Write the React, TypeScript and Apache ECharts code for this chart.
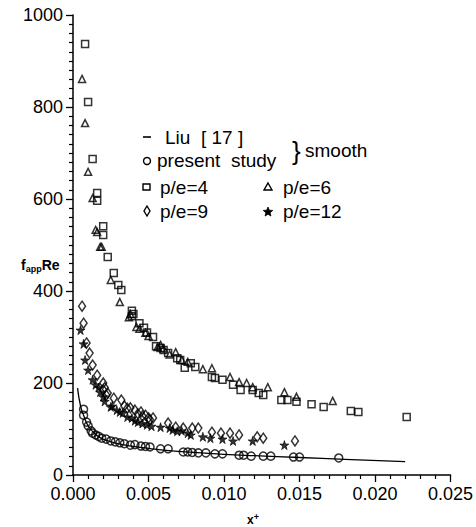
import React, { useEffect, useRef } from "react";
import * as echarts from "echarts";

const xTicks = [0, 0.005, 0.01, 0.015, 0.02, 0.025];
const yTicks = [0, 200, 400, 600, 800, 1000];

const liuX = [0.0003, 0.0005, 0.0007, 0.001, 0.0015, 0.002, 0.003, 0.004, 0.005, 0.006, 0.008, 0.01, 0.012, 0.015, 0.018, 0.022];
const liuY = [189, 150, 130, 107, 88, 78, 68, 62, 58, 54, 49, 45, 42, 38, 34, 29];

const presentStudy: number[][] = [
  [0.0007, 143], [0.0007, 130], [0.0009, 115], [0.001, 107], [0.0012, 96], [0.0013, 91], [0.0015, 87],
  [0.0017, 84], [0.0019, 80], [0.0022, 78], [0.0025, 74], [0.0028, 72], [0.0031, 70], [0.0034, 68],
  [0.0038, 65], [0.0041, 66], [0.0045, 63], [0.0048, 62], [0.0051, 61], [0.0058, 57], [0.0063, 57],
  [0.0073, 50], [0.0076, 50], [0.0079, 49], [0.0083, 48], [0.0088, 48], [0.0094, 46], [0.0099, 46],
  [0.011, 43], [0.0113, 43], [0.0118, 41], [0.0126, 41], [0.0131, 41], [0.0146, 39], [0.015, 39], [0.0176, 37],
];

const pe4: number[][] = [
  [0.0008, 937], [0.001, 811], [0.0013, 687], [0.0016, 613], [0.0016, 596], [0.002, 541], [0.002, 522],
  [0.0023, 474], [0.0027, 439], [0.003, 413], [0.0032, 402], [0.0039, 357], [0.0039, 345], [0.004, 350],
  [0.0044, 330], [0.0047, 320], [0.0049, 310], [0.0053, 300], [0.0055, 280], [0.0058, 276], [0.006, 272],
  [0.0063, 265], [0.0069, 254], [0.0071, 250], [0.0074, 233], [0.0078, 243], [0.0081, 235],
  [0.0092, 213], [0.0094, 211], [0.0099, 207], [0.0106, 196], [0.0111, 185], [0.0119, 185], [0.0123, 178],
  [0.0126, 174], [0.0138, 163], [0.0142, 163], [0.0148, 159], [0.0158, 154], [0.0166, 148], [0.0184, 139],
  [0.0189, 137], [0.0221, 126],
];

const pe6: number[][] = [
  [0.0006, 861], [0.0008, 765], [0.001, 659], [0.0013, 602], [0.0015, 533], [0.0016, 528], [0.0018, 496],
  [0.0019, 496], [0.0025, 424], [0.0031, 376], [0.0037, 343], [0.0038, 350], [0.0042, 322], [0.0044, 318],
  [0.0048, 309], [0.005, 302], [0.0056, 278], [0.0058, 283], [0.006, 275], [0.0064, 262], [0.0068, 267],
  [0.0072, 250], [0.0076, 246], [0.0086, 230], [0.0092, 232], [0.0104, 213],
  [0.011, 202], [0.0115, 200], [0.0119, 191], [0.0129, 191], [0.014, 180], [0.0148, 170], [0.0172, 161],
];

const pe9: number[][] = [
  [0.0006, 367], [0.0007, 330], [0.0009, 287], [0.0011, 265], [0.0013, 239], [0.0016, 217], [0.002, 200],
  [0.002, 185], [0.0021, 190], [0.0022, 174], [0.0023, 178], [0.0027, 167], [0.0032, 163], [0.0034, 150],
  [0.0036, 145], [0.0038, 146], [0.0041, 141], [0.0043, 133], [0.0045, 137], [0.0046, 128],
  [0.0048, 130], [0.005, 124], [0.0051, 120], [0.0053, 124], [0.0063, 113], [0.0068, 104], [0.0073, 102], [0.0079, 102],
  [0.0083, 102], [0.0092, 93], [0.0098, 91], [0.0104, 91], [0.011, 87], [0.0122, 83], [0.0126, 80], [0.0147, 74],
];

const pe12: number[][] = [
  [0.0005, 315], [0.0007, 285], [0.0008, 250], [0.001, 228], [0.0013, 207], [0.0015, 196], [0.0017, 190],
  [0.0018, 180], [0.002, 170], [0.0021, 160], [0.0025, 148], [0.0026, 150], [0.0029, 141], [0.0031, 137],
  [0.0033, 135], [0.0036, 126], [0.0039, 124], [0.0041, 118], [0.0043, 115], [0.0046, 112],
  [0.0049, 109], [0.0052, 106], [0.0058, 104], [0.0064, 102], [0.0066, 98], [0.0069, 95], [0.0072, 96],
  [0.0076, 91], [0.0078, 87], [0.0086, 83], [0.0091, 80],
  [0.0099, 78], [0.0106, 74], [0.0119, 74], [0.014, 65],
];

const STAR = "path://M50,0 L61,35 L98,35 L68,57 L79,91 L50,70 L21,91 L32,57 L2,35 L39,35 Z";

function starPoints(cx: number, cy: number, r: number): number[][] {
  const pts: number[][] = [];
  for (let i = 0; i < 10; i++) {
    const rr = i % 2 === 0 ? r : r * 0.45;
    const a = -Math.PI / 2 + (i * Math.PI) / 5;
    pts.push([cx + rr * Math.cos(a), cy + rr * Math.sin(a)]);
  }
  return pts;
}

const FONT = "'Liberation Sans', Arial, sans-serif";

export default function App() {
  const ref = useRef<HTMLDivElement>(null);
  useEffect(() => {
    const chart = echarts.init(ref.current!, null, { renderer: "svg" });
    const hollow = { color: "transparent", borderColor: "#000", borderWidth: 1.5 };
    const legendText = (x: number, y: number, text: string) => ({
      type: "text", x, y,
      style: { text, font: `19px ${FONT}`, fill: "#000", textVerticalAlign: "middle" },
    });
    chart.setOption({
      animation: false,
      backgroundColor: "#fff",
      grid: { left: 73, top: 15, right: 25, bottom: 52 },
      xAxis: {
        type: "value", min: 0, max: 0.025, interval: 0.005,
        axisLine: { show: true, lineStyle: { color: "#000", width: 1.5 } },
        axisTick: { show: true, length: 7, lineStyle: { color: "#000", width: 1.3 } },
        minorTick: { show: true, splitNumber: 5, length: 4, lineStyle: { color: "#000", width: 1.2 } },
        splitLine: { show: false },
        axisLabel: {
          color: "#000", fontSize: 18, fontFamily: FONT, margin: 10,
          formatter: (v: number) => {
            const t = xTicks.find((k) => Math.abs(k - v) < 1e-9);
            return (t ?? v).toFixed(3);
          },
        },
      },
      yAxis: {
        type: "value", min: 0, max: 1000, interval: 200,
        axisLine: { show: true, lineStyle: { color: "#000", width: 1.5 } },
        axisTick: { show: true, length: 7, lineStyle: { color: "#000", width: 1.3 } },
        minorTick: { show: true, splitNumber: 10, length: 4, lineStyle: { color: "#000", width: 1.2 } },
        splitLine: { show: false },
        axisLabel: {
          color: "#000", fontSize: 18, fontFamily: FONT, margin: 10,
          formatter: (v: number) => String(yTicks.find((k) => k === v) ?? v),
        },
      },
      series: [
        {
          type: "line", name: "Liu [17]", smooth: true, showSymbol: false,
          data: liuX.map((x, i) => [x, liuY[i]]),
          lineStyle: { color: "#000", width: 1.3 },
        },
        { type: "scatter", name: "present study", symbol: "circle", symbolSize: 8, data: presentStudy, itemStyle: hollow },
        { type: "scatter", name: "p/e=4", symbol: "rect", symbolSize: 7, data: pe4, itemStyle: hollow },
        { type: "scatter", name: "p/e=6", symbol: "triangle", symbolSize: 7, data: pe6, itemStyle: hollow },
        { type: "scatter", name: "p/e=9", symbol: "diamond", symbolSize: [7, 10], data: pe9, itemStyle: hollow },
        { type: "scatter", name: "p/e=12", symbol: STAR, symbolSize: 9, data: pe12, itemStyle: { color: "#000", borderColor: "#000", borderWidth: 0.8 } },
      ],
      graphic: [
        { type: "line", shape: { x1: 143, y1: 137, x2: 151, y2: 137 }, style: { stroke: "#000", lineWidth: 1.6 } },
        legendText(165, 137, "Liu  [ 17 ]"),
        { type: "circle", shape: { cx: 147, cy: 161, r: 3.5 }, style: { fill: "none", stroke: "#000", lineWidth: 1.4 } },
        legendText(157, 160, "present  study"),
        { type: "text", x: 292, y: 151, style: { text: "}", font: `26px ${FONT}`, fill: "#000", textVerticalAlign: "middle" } },
        legendText(305, 150, "smooth"),
        { type: "rect", shape: { x: 143, y: 184, width: 7, height: 6 }, style: { fill: "none", stroke: "#000", lineWidth: 1.4 } },
        legendText(160, 187, "p/e=4"),
        { type: "polygon", shape: { points: [[268, 183], [272, 190], [264, 190]] }, style: { fill: "none", stroke: "#000", lineWidth: 1.4 } },
        legendText(283, 187, "p/e=6"),
        { type: "polygon", shape: { points: [[147, 206], [150, 211], [147, 216], [144, 211]] }, style: { fill: "none", stroke: "#000", lineWidth: 1.4 } },
        legendText(160, 211, "p/e=9"),
        { type: "polygon", shape: { points: starPoints(268, 212, 5) }, style: { fill: "#000", stroke: "#000", lineWidth: 0.8 } },
        legendText(283, 211, "p/e=12"),
        {
          type: "text", x: 21, y: 265,
          style: {
            text: "{a|f}{b|app}{a|Re}",
            textVerticalAlign: "middle",
            rich: {
              a: { fontSize: 14, fontWeight: "bold", fontFamily: FONT, fill: "#000" },
              b: { fontSize: 9, fontWeight: "bold", fontFamily: FONT, fill: "#000", padding: [8, 0, 0, 0] },
            },
          },
        },
        {
          type: "text", x: 247, y: 520,
          style: {
            text: "{a|x}{b|+}",
            textVerticalAlign: "middle",
            rich: {
              a: { fontSize: 12, fontWeight: "bold", fontFamily: FONT, fill: "#000" },
              b: { fontSize: 9, fontWeight: "bold", fontFamily: FONT, fill: "#000", padding: [0, 0, 7, 0] },
            },
          },
        },
      ],
    });
    return () => chart.dispose();
  }, []);
  return <div ref={ref} style={{ width: 476, height: 527, position: "absolute", left: 0, top: 0 }} />;
}
